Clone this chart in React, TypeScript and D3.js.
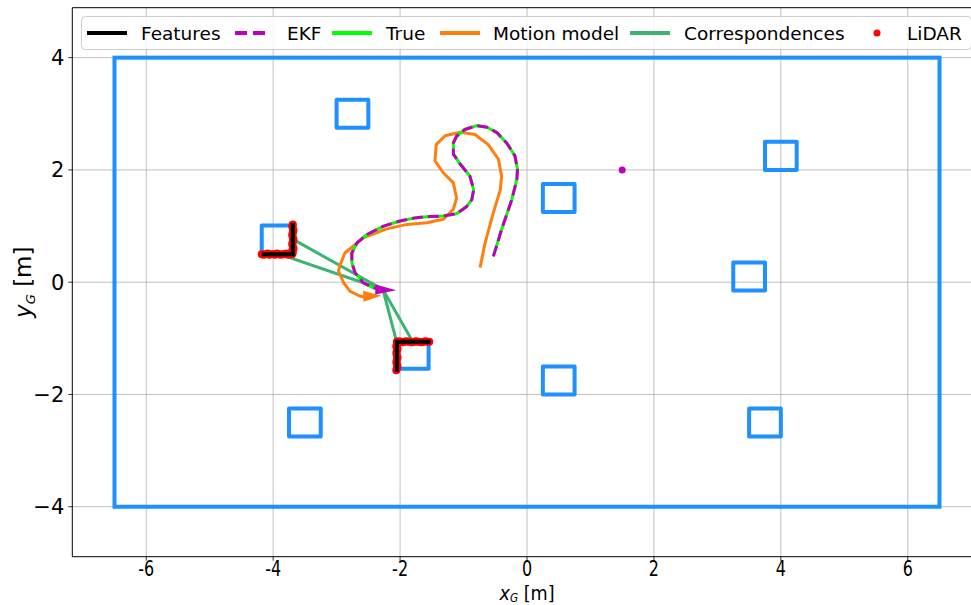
import React from "react";
import * as d3 from "d3";

const W = 971, H = 605;
const xDomain: [number, number] = [-7.165, 7.165];
const yDomain: [number, number] = [-4.89, 4.89];
const xTicks = [-6, -4, -2, 0, 2, 4, 6];
const yTicks = [-4, -2, 0, 2, 4];

const boundary = { x0: -6.5, x1: 6.5, y0: -4, y1: 4 };
const landmarkCenters: [number, number][] = [
  [-2.75, 3.0], [0.5, 1.5], [4.0, 2.25], [-3.93, 0.76], [3.5, 0.1],
  [-1.8, -1.29], [0.5, -1.75], [-3.5, -2.5], [3.75, -2.5],
];
const landmarkSize = 0.5;

const trueTraj: [number, number][] = [
  [-0.53, 0.46], [-0.40, 0.94], [-0.24, 1.47], [-0.16, 1.83], [-0.15, 2.01], [-0.19, 2.25],
  [-0.32, 2.48], [-0.48, 2.67], [-0.63, 2.76], [-0.79, 2.79], [-0.98, 2.72], [-1.11, 2.60],
  [-1.16, 2.48], [-1.16, 2.28], [-1.05, 2.10], [-0.90, 1.89], [-0.84, 1.65], [-0.87, 1.47],
  [-0.95, 1.35], [-1.11, 1.22], [-1.32, 1.18], [-1.53, 1.17], [-1.74, 1.15], [-2.00, 1.09],
  [-2.26, 1.00], [-2.52, 0.85], [-2.68, 0.70], [-2.76, 0.52], [-2.76, 0.35], [-2.71, 0.17],
  [-2.58, -0.01], [-2.42, -0.10], [-2.29, -0.13],
];
const ekfTraj: [number, number][] = trueTraj.map(p => [p[0], p[1]]);
const motionTraj: [number, number][] = [
  [-0.74, 0.26], [-0.66, 0.70], [-0.53, 1.24], [-0.42, 1.65], [-0.40, 1.89], [-0.45, 2.19],
  [-0.61, 2.45], [-0.82, 2.63], [-1.05, 2.67], [-1.29, 2.61], [-1.43, 2.45], [-1.45, 2.16],
  [-1.32, 1.95], [-1.16, 1.77], [-1.11, 1.50], [-1.16, 1.30], [-1.32, 1.12], [-1.58, 1.06],
  [-1.89, 1.03], [-2.21, 0.95], [-2.58, 0.79], [-2.87, 0.52], [-2.95, 0.29], [-2.97, 0.20],
  [-2.89, -0.01], [-2.79, -0.16], [-2.63, -0.25], [-2.47, -0.28],
];
// pose arrows: x, y, heading (rad)
const ekfPose = [-2.39, -0.13, -0.03];
const motionPose = [-2.58, -0.25, 0.03];

const features: [number, number][][] = [
  [[-4.15, 0.5], [-3.69, 0.5], [-3.69, 1.02]],
  [[-1.55, -1.06], [-2.05, -1.06], [-2.05, -1.56]],
];
const robotPoint: [number, number] = [-2.27, -0.13];
const correspondenceTargets: [number, number][] = [
  [-3.65, 0.74], [-3.9, 0.5], [-2.05, -1.08], [-1.8, -1.06],
];
const lidarPoints: [number, number][] = [
  [-4.18, 0.50], [-4.15, 0.49], [-4.12, 0.50], [-4.09, 0.51], [-4.06, 0.49], [-4.03, 0.50],
  [-4.00, 0.50], [-3.97, 0.49], [-3.94, 0.51], [-3.91, 0.50], [-3.88, 0.49], [-3.85, 0.50],
  [-3.82, 0.50], [-3.79, 0.51], [-3.76, 0.49], [-3.73, 0.50], [-3.70, 0.50],
  [-3.69, 0.53], [-3.70, 0.56], [-3.68, 0.60], [-3.69, 0.64], [-3.70, 0.68], [-3.69, 0.72],
  [-3.68, 0.76], [-3.69, 0.80], [-3.70, 0.84], [-3.69, 0.88], [-3.68, 0.92], [-3.69, 0.96],
  [-3.70, 1.00], [-3.69, 1.03],
  [-2.05, -1.06], [-2.02, -1.05], [-1.99, -1.06], [-1.96, -1.07], [-1.93, -1.06], [-1.90, -1.05],
  [-1.87, -1.06], [-1.84, -1.06], [-1.81, -1.07], [-1.78, -1.06], [-1.75, -1.05], [-1.72, -1.06],
  [-1.69, -1.06], [-1.66, -1.07], [-1.63, -1.06], [-1.60, -1.05], [-1.57, -1.06], [-1.54, -1.06],
  [-2.05, -1.10], [-2.06, -1.14], [-2.04, -1.18], [-2.05, -1.22], [-2.06, -1.26], [-2.05, -1.30],
  [-2.04, -1.34], [-2.05, -1.38], [-2.06, -1.42], [-2.05, -1.46], [-2.04, -1.50], [-2.05, -1.54],
  [-2.06, -1.57],
];
const ekfLandmark: [number, number] = [1.5, 2.0];

const legendLabels = ["Features", "EKF", "True", "Motion model", "Correspondences", "LiDAR"];

const C = {
  blue: "#1e90ff", magenta: "#bf00bf", lime: "#00ff00", orange: "#ff7f0e",
  corr: "#3cb371", red: "#ff0000", black: "#000000", grid: "#b0b0b0",
};

export default function App() {
  const left = 72.3, right = 981.7, top = 7.7, bottom = 556.7;
  const x = d3.scaleLinear().domain(xDomain).range([left, right]);
  const y = d3.scaleLinear().domain(yDomain).range([bottom, top]);
  const line = d3.line<[number, number]>().x(d => x(d[0])).y(d => y(d[1]));
  const font = "DejaVu Sans, sans-serif";

  const arrow = (pose: number[], len: number, wid: number) => {
    const bx = x(pose[0]), by = y(pose[1]);
    const th = -pose[2];
    const tx = bx + len * Math.cos(th), ty = by + len * Math.sin(th);
    const px = -Math.sin(th) * wid / 2, py = Math.cos(th) * wid / 2;
    return `M${bx + px},${by + py}L${tx},${ty}L${bx - px},${by - py}Z`;
  };

  // legend layout
  const legY = 33;
  const legItems = [
    { lx: 87, tx: 141, kind: "line", color: C.black },
    { lx: 235, tx: 287, kind: "dash", color: C.magenta },
    { lx: 332, tx: 386, kind: "line", color: C.lime },
    { lx: 440, tx: 493, kind: "line", color: C.orange },
    { lx: 630, tx: 684, kind: "line", color: C.corr },
    { lx: 863, tx: 907, kind: "dot", color: C.red },
  ];

  return (
    <svg width={W} height={H} style={{ position: "absolute", left: 0, top: 0, background: "#fff" }}>
      <defs>
        <clipPath id="plotclip">
          <rect x={left} y={top} width={right - left} height={bottom - top} />
        </clipPath>
      </defs>
      {/* grid */}
      {xTicks.map(t => (
        <line key={"gx" + t} x1={x(t)} x2={x(t)} y1={top} y2={bottom} stroke={C.grid} strokeWidth={0.8} />
      ))}
      {yTicks.map(t => (
        <line key={"gy" + t} x1={left} x2={right} y1={y(t)} y2={y(t)} stroke={C.grid} strokeWidth={0.8} />
      ))}
      <g clipPath="url(#plotclip)">
        {/* boundary */}
        <rect x={x(boundary.x0)} y={y(boundary.y1)} width={x(boundary.x1) - x(boundary.x0)}
          height={y(boundary.y0) - y(boundary.y1)} fill="none" stroke={C.blue} strokeWidth={4} />
        {landmarkCenters.map((c, i) => (
          <rect key={"lm" + i} x={x(c[0] - landmarkSize / 2)} y={y(c[1] + landmarkSize / 2)}
            width={x(c[0] + landmarkSize / 2) - x(c[0] - landmarkSize / 2)}
            height={y(c[1] - landmarkSize / 2) - y(c[1] + landmarkSize / 2)}
            fill="none" stroke={C.blue} strokeWidth={4} strokeLinejoin="round" />
        ))}
        {/* correspondences */}
        {correspondenceTargets.map((t, i) => (
          <line key={"co" + i} x1={x(robotPoint[0])} y1={y(robotPoint[1])} x2={x(t[0])} y2={y(t[1])}
            stroke={C.corr} strokeWidth={3} />
        ))}
        {/* lidar */}
        {lidarPoints.map((p, i) => (
          <circle key={"li" + i} cx={x(p[0])} cy={y(p[1])} r={4} fill={C.red} />
        ))}
        {/* features */}
        {features.map((f, i) => (
          <path key={"fe" + i} d={line(f) || ""} fill="none" stroke={C.black} strokeWidth={4} strokeLinecap="square" />
        ))}
        {/* trajectories */}
        <path d={line(motionTraj) || ""} fill="none" stroke={C.orange} strokeWidth={3} strokeLinejoin="round" />
        <path d={line(trueTraj) || ""} fill="none" stroke={C.lime} strokeWidth={3} strokeLinejoin="round" />
        <path d={line(ekfTraj) || ""} fill="none" stroke={C.magenta} strokeWidth={3} strokeDasharray="11,5" strokeLinejoin="round" />
        <path d={arrow(motionPose, 18, 11)} fill={C.orange} />
        <path d={arrow(ekfPose, 21, 10)} fill={C.magenta} />
        <circle cx={x(ekfLandmark[0])} cy={y(ekfLandmark[1])} r={3.5} fill={C.magenta} />
      </g>
      {/* spines */}
      <line x1={left} x2={left} y1={top} y2={bottom} stroke="#000" strokeWidth={1} />
      <line x1={left} x2={right} y1={bottom} y2={bottom} stroke="#000" strokeWidth={1} />
      <line x1={left} x2={right} y1={top} y2={top} stroke="#000" strokeWidth={1} />
      {/* ticks */}
      {xTicks.map(t => (
        <g key={"xt" + t}>
          <line x1={x(t)} x2={x(t)} y1={bottom} y2={bottom + 4} stroke="#000" strokeWidth={0.8} />
          <text transform={`translate(${x(t)},${575.5}) scale(0.76,1)`} textAnchor="middle"
            fontFamily={font} fontSize={21} fill="#000">{String(t)}</text>
        </g>
      ))}
      {yTicks.map(t => (
        <g key={"yt" + t}>
          <line x1={left - 4} x2={left} y1={y(t)} y2={y(t)} stroke="#000" strokeWidth={0.8} />
          <text x={left - 8} y={y(t) + 7.5} textAnchor="end" fontFamily={font} fontSize={21} fill="#000">
            {t < 0 ? "\u2212" + Math.abs(t) : String(t)}
          </text>
        </g>
      ))}
      {/* axis labels */}
      <text transform={`translate(${x(0)},${599.5}) scale(0.88,1)`} textAnchor="middle" fontFamily={font} fontSize={20}>
        <tspan fontStyle="italic">x</tspan>
        <tspan fontSize={12} dy={2} fontStyle="italic">G</tspan>
        <tspan dy={-2}> [m]</tspan>
      </text>
      <text transform={`translate(${31},${(top + bottom) / 2}) rotate(-90)`} textAnchor="middle" fontFamily={font} fontSize={23}>
        <tspan fontStyle="italic">y</tspan>
        <tspan fontSize={13} dy={4} fontStyle="italic">G</tspan>
        <tspan dy={-4}> [m]</tspan>
      </text>
      {/* legend */}
      <rect x={81.5} y={16.5} width={890} height={33} rx={4} fill="#fff" fillOpacity={0.8} stroke="#cccccc" strokeWidth={1} />
      {legItems.map((it, i) => (
        <g key={"lg" + i}>
          {it.kind === "line" && <line x1={it.lx} x2={it.lx + 40} y1={legY} y2={legY} stroke={it.color} strokeWidth={4} />}
          {it.kind === "dash" && <line x1={it.lx} x2={it.lx + 33} y1={legY} y2={legY} stroke={it.color} strokeWidth={4} strokeDasharray="12,6" />}
          {it.kind === "dot" && <circle cx={it.lx + 14} cy={legY} r={3.5} fill={it.color} />}
          <text x={it.tx} y={legY + 6.5} fontFamily={font} fontSize={18.5} fill="#000">{legendLabels[i]}</text>
        </g>
      ))}
    </svg>
  );
}
